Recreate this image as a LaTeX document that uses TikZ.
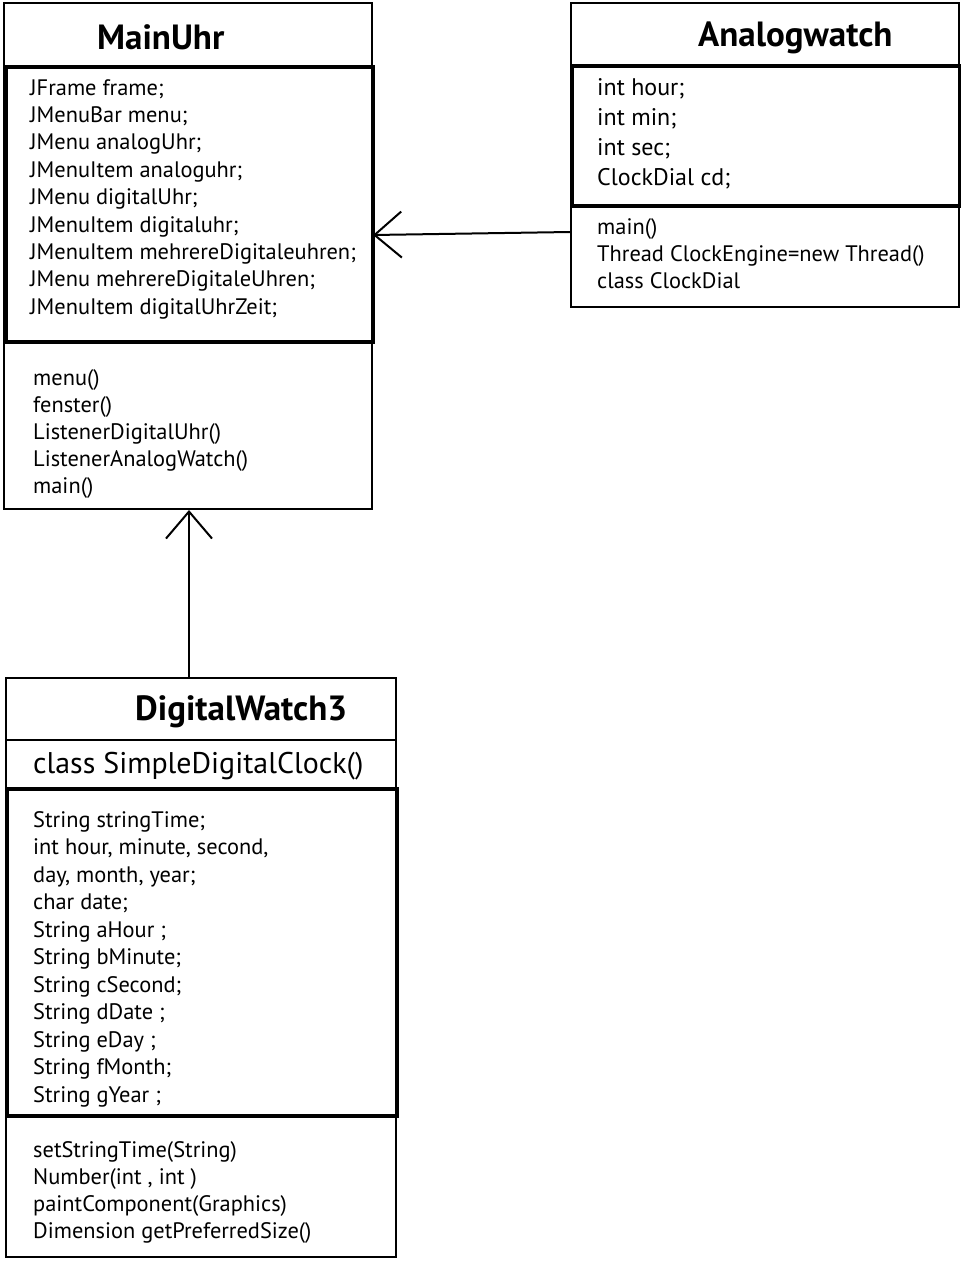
\documentclass[tikz,border=0pt]{standalone}
\usepackage{fontspec}
\setmainfont{PT Sans}
\usetikzlibrary{arrows.meta}
\begin{document}
\begin{tikzpicture}[x=1pt,y=-1pt,
  thinbox/.style={draw, line width=2pt, inner sep=0pt, anchor=north west},
  thickbox/.style={draw, line width=4pt, inner sep=0pt, anchor=north west},
  txt/.style={anchor=base west, inner sep=0pt, font=\fontsize{22.4}{26}\selectfont},
  bigtxt/.style={anchor=base west, inner sep=0pt, font=\fontsize{24}{28}\selectfont},
  hugetxt/.style={anchor=base west, inner sep=0pt, font=\fontsize{29.9}{34}\selectfont},
  ttl/.style={anchor=base west, inner sep=0pt, font=\fontsize{35}{40}\selectfont\bfseries},
  assoc/.style={draw, line width=2pt, -{Straight Barb[length=27pt,width=46pt,line width=2pt]}}
]
\useasboundingbox (0,0) rectangle (961,1272);
\fill[white] (0,0) rectangle (961,1272);

% ---------- MainUhr ----------
\node[thinbox, minimum width=368pt, minimum height=506pt] (mainuhr) at (3,2) {};
\node[thickbox, minimum width=367pt, minimum height=275pt] (mainattr) at (3.5,64.5) {};
\node[ttl] (maintitle) at (97,49) {MainUhr};
\foreach [count=\i from 0] \t in {JFrame frame;, JMenuBar menu;, JMenu analogUhr;,
  JMenuItem analoguhr;, JMenu digitalUhr;, JMenuItem digitaluhr;,
  JMenuItem mehrereDigitaleuhren;, JMenu mehrereDigitaleUhren;, JMenuItem digitalUhrZeit;}
  \node[txt] (ma\i) at (30,95+27.4*\i) {\t};
\foreach [count=\i from 0] \t in {menu(), fenster(), ListenerDigitalUhr(), ListenerAnalogWatch(), main()}
  \node[txt] (mm\i) at (33,385+27*\i) {\t};

% ---------- Analogwatch ----------
\node[thinbox, minimum width=388pt, minimum height=304pt] (analog) at (570,2) {};
\node[thickbox, minimum width=388pt, minimum height=140pt] (analogattr) at (570,64) {};
\node[ttl] (analogtitle) at (698,46) {Analogwatch};
\foreach [count=\i from 0] \t in {int hour;, int min;, int sec;, ClockDial cd;}
  \node[bigtxt] (aa\i) at (597,95+30*\i) {\t};
\foreach [count=\i from 0] \t in {main(), Thread ClockEngine=new Thread(), class ClockDial}
  \node[txt] (am\i) at (597,234+27*\i) {\t};

% ---------- DigitalWatch3 ----------
\node[thinbox, minimum width=390pt, minimum height=579pt] (digital) at (5,677) {};
\draw[line width=2pt] (digital.west |- 0,740) coordinate (dsepL) -- (digital.east |- 0,740) coordinate (dsepR);
\node[thickbox, minimum width=390pt, minimum height=327pt] (digitalattr) at (5,787) {};
\node[ttl] (digitaltitle) at (135,720) {DigitalWatch3};
\node[hugetxt] (dclass) at (33,773) {class SimpleDigitalClock()};
\foreach [count=\i from 0] \t in {String stringTime;, {int hour, minute, second,}, {day, month, year;},
  char date;, String aHour ;, String bMinute;, String cSecond;, String dDate ;,
  String eDay ;, String fMonth;, String gYear ;}
  \node[txt] (da\i) at (33,827+27.5*\i) {\t};
\foreach [count=\i from 0] \t in {setStringTime(String), {Number(int , int )}, paintComponent(Graphics), Dimension getPreferredSize()}
  \node[txt] (dm\i) at (33,1157+27.3*\i) {\t};

% ---------- connectors ----------
\draw[assoc] ([yshift=-230pt]analog.north west) -- ([yshift=-233pt]mainuhr.north east);
\draw[assoc] ([xshift=-12pt]digital.north) -- ([xshift=1pt]mainuhr.south);
\end{tikzpicture}
\end{document}
